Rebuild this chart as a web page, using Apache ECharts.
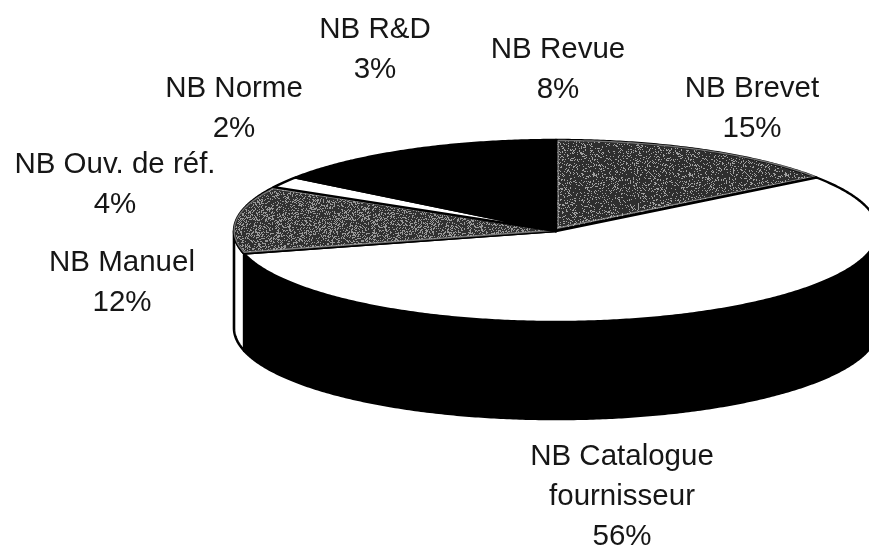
<!DOCTYPE html>
<html>
<head>
<meta charset="utf-8">
<style>html,body{margin:0;padding:0;background:#fff}#c{width:869px;height:547px}</style>
<script src="https://cdn.jsdelivr.net/npm/echarts@6/dist/echarts.min.js"></script>
</head>
<body>
<div id="c"></div>
<script>
// Values (percent), clockwise from 12 o'clock
const categories = ['NB Brevet', 'NB Catalogue\nfournisseur', 'NB Manuel', 'NB Norme', 'NB Ouv. de réf.', 'NB R&D', 'NB Revue'];
const values = [15, 56, 12, 2, 4, 3, 8];

// Drawing settings, separate from the data
const topFills = ['brevet', '#ffffff', 'manuel', '#ffffff', '#000000', '#000000', '#000000'];
const wallFills = ['#000000', '#000000', '#ffffff', '#ffffff', '#000000', '#000000', '#000000'];
const labelCenters = [[752, 109], [622, 497], [122, 283], [234, 109], [115, 185], [375, 50], [558, 70]];
const disc = { cx: 556, cy: 231, rx: 322, ry: 91, depth: 97 };

// Scanned halftone look: a fixed, repeatable speckle tile
function speckle(dark, light, density, seed) {
  const n = 96, c = document.createElement('canvas');
  c.width = c.height = n;
  const g = c.getContext('2d');
  let s = seed;
  for (let y = 0; y < n; y++) for (let x = 0; x < n; x++) {
    s = (s * 1103515245 + 12345) & 0x7fffffff;
    g.fillStyle = ((s >> 12) & 1023) / 1023 < density ? light : dark;
    g.fillRect(x, y, 1, 1);
  }
  return { image: c, repeat: 'repeat' };
}
const patterns = {
  brevet: speckle('#2e2e2e', '#a0a0a0', 0.18, 7),
  manuel: speckle('#303030', '#989898', 0.3, 19)
};

const total = values.reduce((a, b) => a + b, 0);
const starts = [];
values.reduce((sum, v, i) => { starts[i] = sum; return sum + v; }, 0);

function rimPoint(t, dy) {
  return [disc.cx + disc.rx * Math.sin(t), disc.cy - disc.ry * Math.cos(t) + (dy || 0)];
}
function arc(t0, t1, dy) {
  const n = Math.max(2, Math.ceil(Math.abs(t1 - t0) / 0.01)), pts = [];
  for (let i = 0; i <= n; i++) pts.push(rimPoint(t0 + (t1 - t0) * i / n, dy));
  return pts;
}

function renderItem(params, api) {
  const i = params.dataIndex;
  const v = api.value(0);
  const t0 = starts[i] / total * 2 * Math.PI;
  const t1 = t0 + v / total * 2 * Math.PI;
  const children = [];

  // visible side wall: the front half of the rim
  const w0 = Math.max(t0, Math.PI / 2), w1 = Math.min(t1, 1.5 * Math.PI);
  if (w1 > w0) {
    const top = arc(w0, w1, 0), bottom = arc(w1, w0, disc.depth);
    children.push({
      type: 'polygon',
      shape: { points: top.concat(bottom) },
      style: { fill: wallFills[i], stroke: '#000', lineWidth: 2.6, lineJoin: 'round' }
    });
  }
  // top wedge
  const f = topFills[i];
  const wedge = [[disc.cx, disc.cy]].concat(arc(t0, t1, 0));
  children.push({
    type: 'polygon',
    shape: { points: wedge },
    style: { fill: patterns[f] || f, stroke: '#000', lineWidth: 2.4, lineJoin: 'round' }
  });
  // lighter halo just inside the textured wedges
  if (patterns[f]) {
    const mx = wedge.reduce((a, p) => a + p[0], 0) / wedge.length;
    const my = wedge.reduce((a, p) => a + p[1], 0) / wedge.length;
    children.push({
      type: 'polygon',
      shape: { points: wedge.map(p => [mx + (p[0] - mx) * 0.985, my + (p[1] - my) * 0.96]) },
      style: { fill: 'none', stroke: 'rgba(190,190,190,0.6)', lineWidth: 1.4, lineJoin: 'round' }
    });
  }
  // label
  children.push({
    type: 'text',
    style: {
      text: categories[i] + '\n' + v + '%',
      x: labelCenters[i][0], y: labelCenters[i][1],
      align: 'center', verticalAlign: 'middle',
      font: '29.5px "Liberation Sans", Arial, sans-serif',
      lineHeight: 40, fill: '#161616'
    }
  });
  return { type: 'group', children };
}

const chart = echarts.init(document.getElementById('c'), null, { renderer: 'canvas' });
chart.setOption({
  animation: false,
  backgroundColor: '#ffffff',
  series: [{
    type: 'custom',
    coordinateSystem: 'none',
    renderItem,
    clip: false,
    silent: true,
    data: values.map(v => [v])
  }]
});
</script>
</body>
</html>
